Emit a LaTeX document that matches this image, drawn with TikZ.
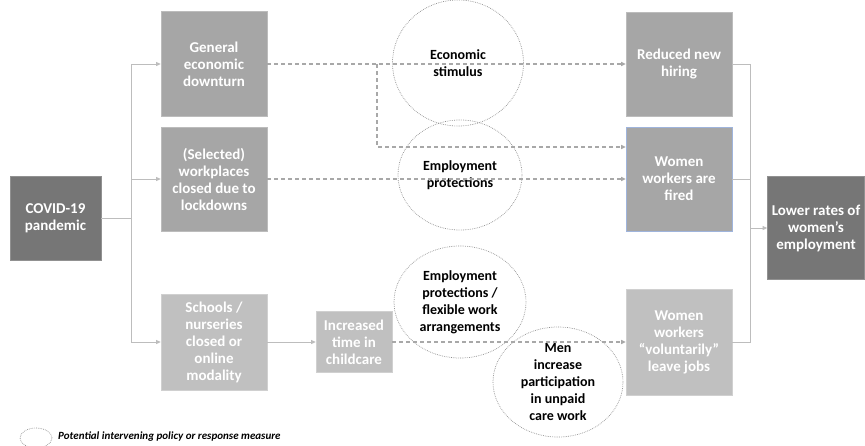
\documentclass[tikz,border=0pt]{standalone}
\usepackage{fontspec}
\setmainfont{Carlito}
\usetikzlibrary{arrows.meta,shapes.geometric}

\definecolor{boxdark}{HTML}{767676}
\definecolor{boxmid}{HTML}{A6A6A6}
\definecolor{boxlight}{HTML}{C0C0C0}
\definecolor{linegrey}{HTML}{BDBDBD}
\definecolor{dashgrey}{HTML}{A8A8A8}
\definecolor{ringgrey}{HTML}{8E8E8E}
\definecolor{edgeblue}{HTML}{9FB4DC}

\begin{document}
\begin{tikzpicture}[x=1pt,y=-1pt,
  box/.style={rectangle, inner sep=0pt, align=center, text=white,
    line width=0.7pt, font=\bfseries\fontsize{15}{17}\selectfont},
  darkbox/.style={box, fill=boxdark, draw=boxdark!80!white},
  midbox/.style={box, fill=boxmid, draw=boxmid!75!white},
  lightbox/.style={box, fill=boxlight, draw=boxlight!75!white},
  policy/.style={ellipse, draw=ringgrey, line width=0.7pt,
    dash pattern=on 0.7pt off 1.1pt, inner sep=0pt},
  policytext/.style={align=center, text=black, inner sep=0pt,
    font=\bfseries\fontsize{14}{17}\selectfont},
  tip/.style={-{Triangle[length=4.5pt,width=4pt]}},
  solidlink/.style={draw=linegrey, line width=1pt},
  dashlink/.style={draw=dashgrey, line width=1.1pt, dash pattern=on 4pt off 3pt},
]
% canvas
\path[use as bounding box, fill=white] (0,0) rectangle (865,445);

% policy measures (drawn first so that boxes and links sit on top)
\node[policy, minimum width=131, minimum height=126] (stim) at (458,63) {};
\node[policytext] (stimtext) at (stim) {Economic\\stimulus};
\node[policy, minimum width=124, minimum height=110] (prot) at (460,175) {};
\node[policytext] (prottext) at (prot) {Employment\\protections};
\node[policy, minimum width=132, minimum height=112] (flex) at (460,302) {};
\node[policytext] (flextext) at (flex) {Employment\\protections /\\flexible work\\arrangements};
\node[policy, minimum width=130, minimum height=110] (men) at (558,382) {};
\node[policytext] (mentext) at (men) {Men\\increase\\participation\\in unpaid\\care work};

% boxes
\node[darkbox, minimum width=91, minimum height=84] (covid) at (55.5,218) {COVID-19\\pandemic};
\node[midbox, minimum width=106, minimum height=105] (general) at (214,64) {General\\economic\\downturn};
\node[midbox, minimum width=106, minimum height=104] (selected) at (214,179) {(Selected)\\workplaces\\closed due to\\lockdowns};
\node[lightbox, minimum width=106, minimum height=96] (schools) at (214,342) {Schools /\\nurseries\\closed or\\online\\modality};
\node[lightbox, minimum width=76, minimum height=61] (childcare) at (354,342) {Increased\\time in\\childcare};
\node[midbox, minimum width=106, minimum height=104] (reduced) at (679,64) {Reduced new\\hiring};
\node[midbox, draw=edgeblue, minimum width=106, minimum height=104] (fired) at (679,179) {Women\\workers are\\fired};
\node[lightbox, minimum width=106, minimum height=106] (volunt) at (679,342) {Women\\workers\\``voluntarily''\\leave jobs};
\node[darkbox, minimum width=97, minimum height=103] (lower) at (816,228) {Lower rates of\\women’s\\employment};

% branching points
\coordinate (split) at (131,218);
\coordinate (fork) at (377,64);
\coordinate (merge) at (750,228);

% pandemic to first-order effects
\draw[solidlink] (covid.east) -- (split);
\draw[solidlink, tip] (split) |- (general.west);
\draw[solidlink, tip] (split) |- (selected.west);
\draw[solidlink, tip] (split) |- (schools.west);
\draw[solidlink, tip] (schools.east) -- (childcare.west);

% mediated effects
\draw[dashlink, tip] (general.east) -- (reduced.west);
\draw[dashlink, tip] (fork) |- ([yshift=32pt]fired.west);
\draw[dashlink, tip] (selected.east) -- (fired.west);
\draw[dashlink, tip] (childcare.east) -- (volunt.west);

% outcomes to overall result
\draw[solidlink] (reduced.east) -| (merge);
\draw[solidlink] (fired.east) -| (merge);
\draw[solidlink] (volunt.east) -| (merge);
\draw[solidlink, tip] (merge) -- (lower.west);

% legend
\node[policy, minimum width=32, minimum height=20] (legring) at (36,438) {};
\node[anchor=west, inner sep=0pt, font=\bfseries\itshape\fontsize{11}{13}\selectfont]
  (legtext) at (58,437) {Potential intervening policy or response measure};
\end{tikzpicture}
\end{document}
